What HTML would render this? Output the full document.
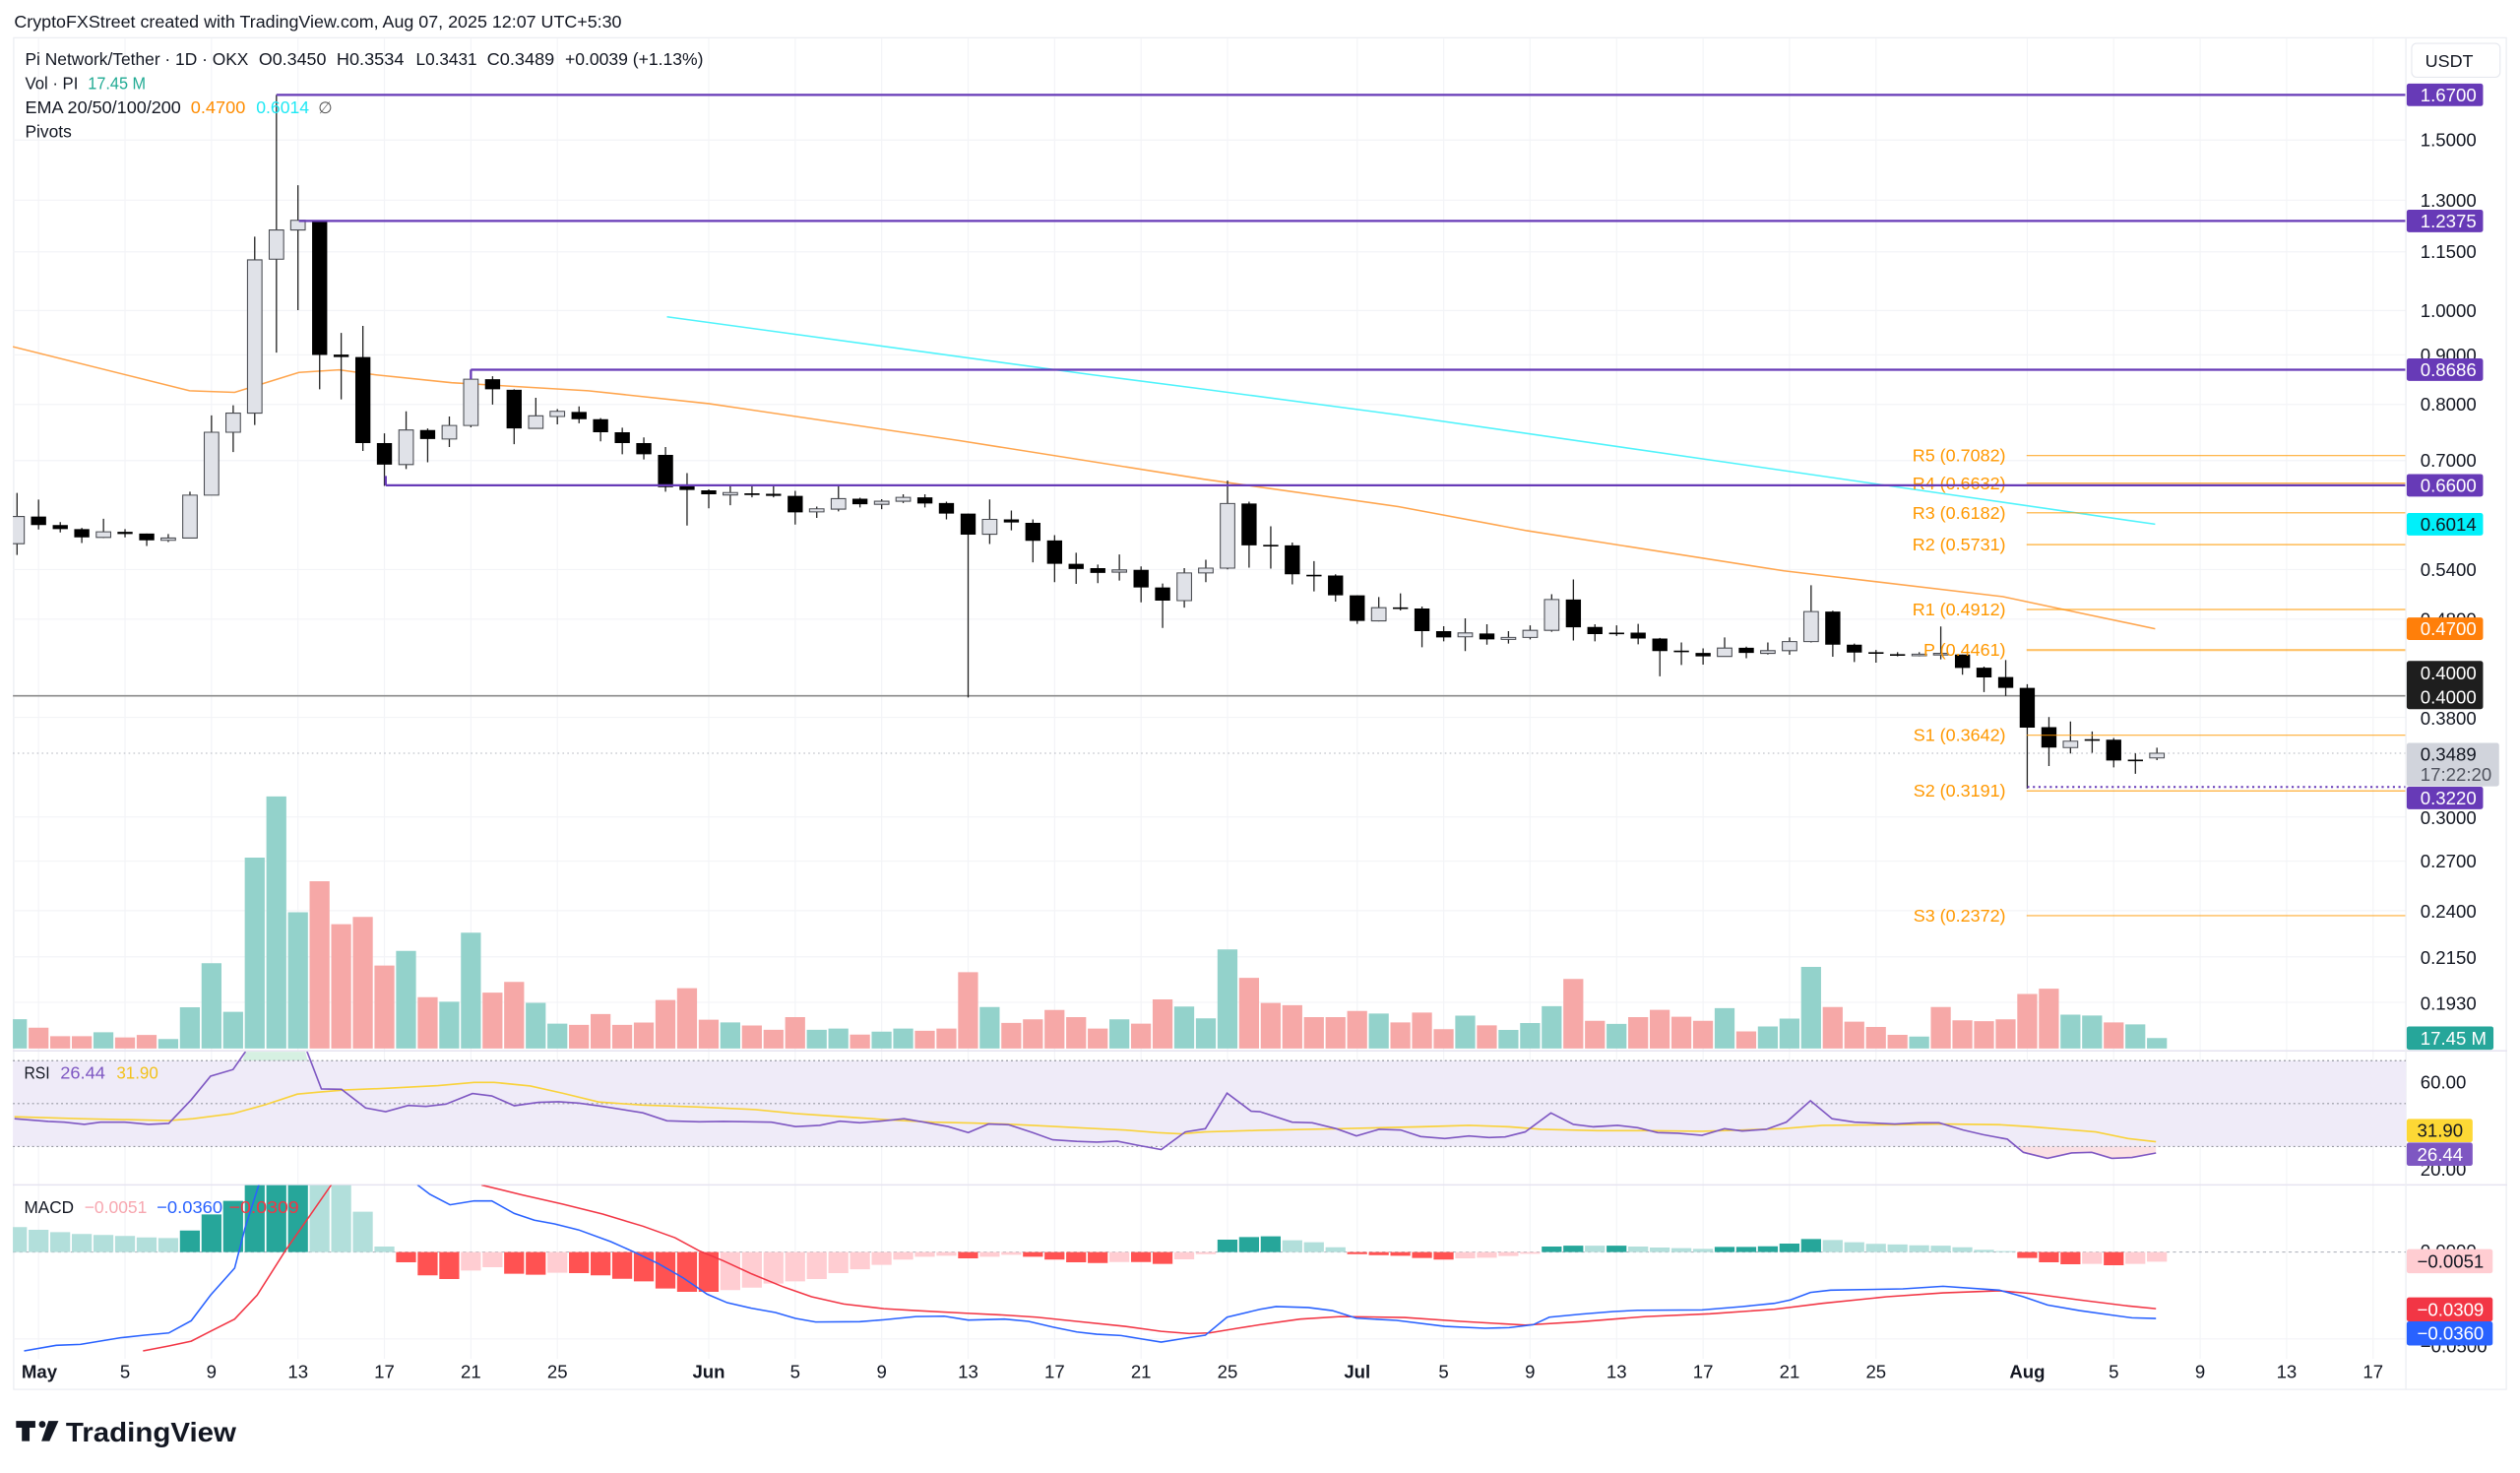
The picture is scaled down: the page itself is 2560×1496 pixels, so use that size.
<!DOCTYPE html>
<html><head><meta charset="utf-8"><style>
html,body{margin:0;padding:0;background:#fff;overflow:hidden}
svg{display:block}
text{font-family:"Liberation Sans",Arial,sans-serif}
</style></head><body>
<svg width="2560" height="1496" viewBox="0 0 1568 916" preserveAspectRatio="none" xmlns="http://www.w3.org/2000/svg" fill="#131722">
<defs>
<clipPath id="cm"><rect x="8" y="24" width="1489" height="630"/></clipPath>
<clipPath id="cr"><rect x="8" y="654" width="1489" height="82.5"/></clipPath>
<clipPath id="cd"><rect x="8" y="737" width="1489" height="108"/></clipPath>
</defs>
<rect x="0" y="0" width="1568" height="916" fill="#fff"/>
<text x="8.8" y="17.3" font-size="11" textLength="378" lengthAdjust="spacingAndGlyphs">CryptoFXStreet created with TradingView.com, Aug 07, 2025 12:07 UTC+5:30</text>
<rect x="8.5" y="23.5" width="1551" height="840.5" fill="none" stroke="#eceef2" stroke-width="0.8"/>

<!-- grid -->
<g stroke="#f3f4f7" stroke-width="0.7" fill="none">
<path d="M8 87.1H1497M8 124.5H1497M8 156.6H1497M8 193.1H1497M8 220.7H1497M8 251.5H1497M8 286.4H1497M8 354.2H1497M8 385H1497M8 446.1H1497M8 508H1497M8 535.5H1497M8 566.3H1497M8 595H1497M8 623.3H1497M8 673H1497M8 832.6H1497"/>
<path d="M24 24V845M77.8 24V845M131.6 24V845M185.4 24V845M239.2 24V845M293 24V845M346.8 24V845M441 24V845M494.8 24V845M548.6 24V845M602.4 24V845M656.2 24V845M710 24V845M763.8 24V845M844.5 24V845M898.3 24V845M952 24V845M1005.9 24V845M1059.7 24V845M1113.5 24V845M1167.3 24V845M1261.4 24V845M1315.2 24V845M1369 24V845M1422.8 24V845M1476.6 24V845"/>
</g>

<g clip-path="url(#cm)">
<!-- volume -->
<path fill="#93d2cb" d="M4.35 633.8h12.4V652h-12.4zM58.15 641.9h12.4V652h-12.4zM98.5 646.1h12.4V652h-12.4zM111.95 626.4h12.4V652h-12.4zM125.4 599h12.4V652h-12.4zM138.85 629.2h12.4V652h-12.4zM152.3 533.3h12.4V652h-12.4zM165.75 495.3h12.4V652h-12.4zM179.2 567.3h12.4V652h-12.4zM246.45 591.3h12.4V652h-12.4zM273.35 622.9h12.4V652h-12.4zM286.8 580h12.4V652h-12.4zM327.15 623.6h12.4V652h-12.4zM340.6 636.6h12.4V652h-12.4zM448.2 635.8h12.4V652h-12.4zM502 640.4h12.4V652h-12.4zM515.45 639.6h12.4V652h-12.4zM542.35 641.5h12.4V652h-12.4zM555.8 639.6h12.4V652h-12.4zM609.6 626.2h12.4V652h-12.4zM690.3 633.9h12.4V652h-12.4zM730.65 625.9h12.4V652h-12.4zM744.1 633.3h12.4V652h-12.4zM757.55 590.4h12.4V652h-12.4zM851.7 630.3h12.4V652h-12.4zM905.5 631.6h12.4V652h-12.4zM932.4 640.5h12.4V652h-12.4zM945.85 636.2h12.4V652h-12.4zM959.3 625.7h12.4V652h-12.4zM999.65 636.7h12.4V652h-12.4zM1066.9 626.9h12.4V652h-12.4zM1093.8 638.3h12.4V652h-12.4zM1107.25 633.4h12.4V652h-12.4zM1120.7 601.3h12.4V652h-12.4zM1187.95 644.6h12.4V652h-12.4zM1282.1 631h12.4V652h-12.4zM1295.55 631.5h12.4V652h-12.4zM1322.45 637h12.4V652h-12.4zM1335.9 645.5h12.4V652h-12.4z"/>
<path fill="#f6a8a7" d="M17.8 639.1h12.4V652h-12.4zM31.25 644.4h12.4V652h-12.4zM44.7 644.4h12.4V652h-12.4zM71.6 645.1h12.4V652h-12.4zM85.05 643.6h12.4V652h-12.4zM192.65 548h12.4V652h-12.4zM206.1 574.7h12.4V652h-12.4zM219.55 570.2h12.4V652h-12.4zM233 600.4h12.4V652h-12.4zM259.9 620.1h12.4V652h-12.4zM300.25 617.3h12.4V652h-12.4zM313.7 610.6h12.4V652h-12.4zM354.05 637.3h12.4V652h-12.4zM367.5 630.6h12.4V652h-12.4zM380.95 637.3h12.4V652h-12.4zM394.4 635.9h12.4V652h-12.4zM407.85 621.9h12.4V652h-12.4zM421.3 614.5h12.4V652h-12.4zM434.75 634.1h12.4V652h-12.4zM461.65 637.7h12.4V652h-12.4zM475.1 640.4h12.4V652h-12.4zM488.55 632.5h12.4V652h-12.4zM528.9 643.4h12.4V652h-12.4zM569.25 641h12.4V652h-12.4zM582.7 639.6h12.4V652h-12.4zM596.15 604.6h12.4V652h-12.4zM623.05 636.1h12.4V652h-12.4zM636.5 633.9h12.4V652h-12.4zM649.95 628.1h12.4V652h-12.4zM663.4 632.5h12.4V652h-12.4zM676.85 639.6h12.4V652h-12.4zM703.75 636.6h12.4V652h-12.4zM717.2 621.5h12.4V652h-12.4zM771 608.1h12.4V652h-12.4zM784.45 623.7h12.4V652h-12.4zM797.9 625.1h12.4V652h-12.4zM811.35 632.5h12.4V652h-12.4zM824.8 632.5h12.4V652h-12.4zM838.25 628.7h12.4V652h-12.4zM865.15 635.8h12.4V652h-12.4zM878.6 629.7h12.4V652h-12.4zM892.05 640h12.4V652h-12.4zM918.95 637.6h12.4V652h-12.4zM972.75 608.8h12.4V652h-12.4zM986.2 634.8h12.4V652h-12.4zM1013.1 632.5h12.4V652h-12.4zM1026.55 628h12.4V652h-12.4zM1040 632.3h12.4V652h-12.4zM1053.45 634.8h12.4V652h-12.4zM1080.35 641.4h12.4V652h-12.4zM1134.15 626.2h12.4V652h-12.4zM1147.6 635.3h12.4V652h-12.4zM1161.05 638.6h12.4V652h-12.4zM1174.5 643.5h12.4V652h-12.4zM1201.4 626.2h12.4V652h-12.4zM1214.85 634.5h12.4V652h-12.4zM1228.3 635h12.4V652h-12.4zM1241.75 633.9h12.4V652h-12.4zM1255.2 618.1h12.4V652h-12.4zM1268.65 614.8h12.4V652h-12.4zM1309 635.8h12.4V652h-12.4z"/>

<!-- price dotted line -->
<path d="M8 468.4H1497" stroke="#b2b5be" stroke-width="0.6" stroke-dasharray="1 2" fill="none"/>
<!-- 0.40 ray -->
<path d="M8 432.7H1497" stroke="#8a8a8a" stroke-width="1" fill="none"/>

<!-- EMAs -->
<polyline fill="none" stroke="#ffa54d" stroke-width="0.95" points="8,215.6 118,243 146,244 186,231.6 211,230 233,233 281,238 366,243 441,251 597,274 749,298 870,315 950,330 1110,355 1246,371 1298,382 1341,391"/>
<polyline fill="none" stroke="#4ff3fb" stroke-width="0.95" points="415,197 679,233 749,242 870,258 1341,326"/>

<!-- wicks -->
<path stroke="#222" stroke-width="0.8" fill="none" d="M10.6 306.5V345.1M24 310.7V329.3M37.5 324.7V331.1M50.9 328.3V337.7M64.4 322.6V334.6M77.8 329V334.2M91.3 331.8V339.5M104.7 332.1V337.1M118.2 305.8V334.6M131.6 258.3V307.9M145.1 252V281.1M158.5 147.2V264.3M172 59V219.3M185.4 115.2V192.9M198.9 137V242.1M212.3 207V248.4M225.8 202.7V280.4M239.2 269.5V302.2M252.7 255.8V291.7M266.1 266.4V287.5M279.6 259V278M293 229.8V265.7M306.5 234V251.6M319.9 242.1V276.2M333.4 247.4V266.4M346.8 254.4V263.9M360.3 252.7V263.2M373.7 260V274.5M387.2 266V282.5M400.6 272V285.7M414.1 278V305.8M427.5 294.2V326.8M441 304.3V316.1M454.4 302.4V314.2M467.9 302.4V309.3M481.3 302.4V309.3M494.8 305.2V326.2M508.2 315V322.1M521.7 301.9V318M535.1 309.5V315.6M548.6 310.4V316.6M562 307.4V312.8M575.5 307.4V315.6M588.9 312V323M602.4 319.4V433.7M615.8 310.6V338.3M629.3 317.5V329.8M642.7 323V349.7M656.2 332.8V362M669.6 343.7V363.1M683.1 351.1V362.6M696.5 344.8V361M710 352.2V374.6M723.4 362.9V390.5M736.9 353.3V377.9M750.3 348.1V362M763.8 298.9V354.1M777.2 312V353M790.7 327.3V353.6M804.1 337.4V363.4M817.6 348.9V367.8M831 357.1V374.1M844.5 370.2V388M857.9 371.3V386.4M871.4 369V379.6M884.8 377.2V402.5M898.3 389.4V398.8M911.7 384.5V404.9M925.2 388.2V400.9M938.6 392.5V400.2M952.1 388.9V397.6M965.5 369.5V392.9M979 360.3V398.3M992.4 388.2V398.8M1005.9 388.9V395.5M1019.3 388V400.7M1032.8 396.7V420.6M1046.2 399.5V413.5M1059.7 403.2V413.3M1073.1 396.4V408.4M1086.6 402.1V409.3M1100 399.5V407M1113.5 396.4V407.2M1126.9 363.9V399.5M1140.4 379.8V408.4M1153.8 400.2V411.7M1167.3 404.2V412.1M1180.7 405.6V408.2M1194.2 405.6V408.2M1207.6 389.6V410M1221.1 407V419.6M1234.5 414.5V430.4M1248 410.5V432.8M1261.4 425.5V490.4M1274.9 445.9V476.4M1288.3 448.7V468.6M1301.8 454.9V468.1M1315.2 458.9V477.2M1328.7 468.5V481.2M1342.1 465V472.7"/>
<!-- down bodies -->
<path fill="#000" d="M19.3 321.2h9.4V326.5h-9.4zM32.8 326.5h9.4V329h-9.4zM46.2 329h9.4V334.2h-9.4zM73.1 330.7h9.4V332.1h-9.4zM86.6 331.8h9.4V336h-9.4zM194.2 137h9.4V220.7h-9.4zM207.6 220.5h9.4V222h-9.4zM221.1 222h9.4V275.5h-9.4zM234.5 275.5h9.4V288.9h-9.4zM261.4 267.4h9.4V273h-9.4zM301.8 235.8h9.4V242.1h-9.4zM315.2 242.4h9.4V266.4h-9.4zM355.6 256.2h9.4V260.7h-9.4zM369 260.7h9.4V268.8h-9.4zM382.5 268.8h9.4V275.5h-9.4zM395.9 275.5h9.4V282.5h-9.4zM409.4 282.9h9.4V302.9h-9.4zM422.8 302.2h9.4V304.7h-9.4zM436.3 304.9h9.4V307.4h-9.4zM463.2 306.8h9.4V307.8h-9.4zM476.6 307.1h9.4V308.4h-9.4zM490.1 308.4h9.4V318.6h-9.4zM530.4 310.1h9.4V313.6h-9.4zM570.8 309.3h9.4V313.1h-9.4zM584.2 312.8h9.4V319.4h-9.4zM597.7 319.4h9.4V332.5h-9.4zM624.6 323h9.4V324.9h-9.4zM638 325.1h9.4V336.3h-9.4zM651.5 336.1h9.4V350.6h-9.4zM664.9 350.6h9.4V353.8h-9.4zM678.4 353.3h9.4V356.3h-9.4zM705.3 354.4h9.4V365.3h-9.4zM718.7 365.3h9.4V373.5h-9.4zM772.5 313.1h9.4V339.1h-9.4zM786 338.8h9.4V339.8h-9.4zM799.4 339.1h9.4V357.1h-9.4zM812.9 357.4h9.4V358.4h-9.4zM826.3 357.9h9.4V370.2h-9.4zM839.8 370.2h9.4V386.1h-9.4zM866.7 377.7h9.4V378.7h-9.4zM880.1 378.4h9.4V392.5h-9.4zM893.6 392.5h9.4V396.4h-9.4zM920.5 393.9h9.4V397.6h-9.4zM974.3 372.8h9.4V390.1h-9.4zM987.7 389.9h9.4V394.3h-9.4zM1001.2 393.4h9.4V394.4h-9.4zM1014.6 393.4h9.4V397.1h-9.4zM1028.1 397.1h9.4V404.9h-9.4zM1041.5 404.6h9.4V405.6h-9.4zM1055 406h9.4V408.2h-9.4zM1081.9 402.8h9.4V406h-9.4zM1135.7 380.3h9.4V400.9h-9.4zM1149.1 400.9h9.4V405.8h-9.4zM1162.6 405.6h9.4V406.6h-9.4zM1176 406.8h9.4V407.8h-9.4zM1216.4 407h9.4V415.4h-9.4zM1229.8 415.2h9.4V421.3h-9.4zM1243.3 421h9.4V427.8h-9.4zM1256.7 427.8h9.4V452.5h-9.4zM1270.2 452.2h9.4V464.9h-9.4zM1297.1 459.7h9.4V460.7h-9.4zM1310.5 460h9.4V472.9h-9.4zM1324 472.4h9.4V473.4h-9.4z"/>
<!-- up bodies -->
<path fill="#e0e2e8" stroke="#4a4c52" stroke-width="0.65" d="M6.1 321.2h9V338.1h-9zM59.9 330.7h9V334.2h-9zM100.2 334.6h9V336h-9zM113.7 307.9h9V334.6h-9zM127.1 268.8h9V307.9h-9zM140.6 256.9h9V268.8h-9zM154 161.6h9V256.9h-9zM167.5 143h9V161.2h-9zM180.9 137h9V143h-9zM248.2 267.4h9V288.9h-9zM275.1 264.6h9V273h-9zM288.5 235.8h9V264.6h-9zM328.9 258.6h9V266.4h-9zM342.3 255.8h9V259h-9zM449.9 306.3h9V307.8h-9zM503.7 316.4h9V318.3h-9zM517.2 310.1h9V316.6h-9zM544.1 311.7h9V313.6h-9zM557.5 309.3h9V311.7h-9zM611.3 323h9V332.2h-9zM692 354.4h9V355.8h-9zM732.4 356.3h9V373.5h-9zM745.8 353.3h9V356.3h-9zM759.3 313.1h9V353.3h-9zM853.4 377.9h9V386.1h-9zM907.2 393.6h9V396h-9zM934.1 396.4h9V397.6h-9zM947.6 392h9V396.4h-9zM961 372.8h9V392h-9zM1068.6 403h9V408.2h-9zM1095.5 404.6h9V406.3h-9zM1109 399h9V404.6h-9zM1122.4 380.3h9V399h-9zM1189.7 406.8h9V407.8h-9zM1203.1 406.3h9V407.3h-9zM1283.8 460.9h9V464.9h-9zM1337.6 468.4h9V471.3h-9z"/>

<!-- pivots -->
<g stroke="#ff9800" stroke-opacity="0.8" stroke-width="0.75" fill="none">
<path d="M1261 283.3H1497M1261 300.5H1497M1261 318.9H1497M1261 338.7H1497M1261 379H1497M1261 457.2H1497M1261 491.8H1497M1261 569.4H1497"/>
<path d="M1261 404.2H1497" stroke-width="1.3" stroke-opacity="0.6"/>
</g>
<g font-size="11" fill="#ff9800" text-anchor="end" dominant-baseline="central">
<text x="1248" y="283.3">R5 (0.7082)</text>
<text x="1248" y="300.5">R4 (0.6632)</text>
<text x="1248" y="318.9">R3 (0.6182)</text>
<text x="1248" y="338.7">R2 (0.5731)</text>
<text x="1248" y="379">R1 (0.4912)</text>
<text x="1248" y="404.2">P (0.4461)</text>
<text x="1248" y="457.2">S1 (0.3642)</text>
<text x="1248" y="491.8">S2 (0.3191)</text>
<text x="1248" y="569.4">S3 (0.2372)</text>
</g>
<!-- purple levels -->
<path d="M172 59H1497M186 137.4H1497M293 229.9H1497M240 301.8H1497M293 229.9V235.8M240 301.8V296" stroke="#673ab7" stroke-width="1.4" fill="none"/>
<path d="M1261.4 489.4H1497" stroke="#673ab7" stroke-width="1.2" stroke-dasharray="1.3 2.2" fill="none"/>
</g>

<!-- legend -->
<g font-size="11">
<text x="15.6" y="40.5" textLength="139" lengthAdjust="spacingAndGlyphs">Pi Network/Tether · 1D · OKX</text>
<text x="161" y="40.5" textLength="42" lengthAdjust="spacingAndGlyphs">O0.3450</text>
<text x="209.4" y="40.5" textLength="42" lengthAdjust="spacingAndGlyphs">H0.3534</text>
<text x="258.8" y="40.5" textLength="38" lengthAdjust="spacingAndGlyphs">L0.3431</text>
<text x="303" y="40.5" textLength="42" lengthAdjust="spacingAndGlyphs">C0.3489</text>
<text x="351.6" y="40.5" textLength="86" lengthAdjust="spacingAndGlyphs">+0.0039 (+1.13%)</text>
<text x="15.6" y="55.5" textLength="33" lengthAdjust="spacingAndGlyphs">Vol · PI</text>
<text x="54.7" y="55.5" textLength="36" lengthAdjust="spacingAndGlyphs" fill="#22ab94">17.45 M</text>
<text x="15.6" y="70.4" textLength="97" lengthAdjust="spacingAndGlyphs">EMA 20/50/100/200</text>
<text x="118.7" y="70.4" textLength="34" lengthAdjust="spacingAndGlyphs" fill="#ff8c00">0.4700</text>
<text x="159.4" y="70.4" textLength="33" lengthAdjust="spacingAndGlyphs" fill="#1ee8f4">0.6014</text>
<text x="198" y="70.4" font-size="10" fill="#555">∅</text>
<text x="15.6" y="85.3" textLength="29" lengthAdjust="spacingAndGlyphs">Pivots</text>
</g>

<!-- pane separators -->
<path d="M8 653.5H1560M8 736.8H1560" stroke="#e6e3f0" stroke-width="0.9" fill="none"/>
<path d="M1497 24V864" stroke="#eceef2" stroke-width="0.8" fill="none"/>

<!-- RSI pane -->
<g clip-path="url(#cr)">
<rect x="8" y="659.6" width="1489" height="53.4" fill="#efebf8"/>
<polygon points="151,659.6 152.5,654.3 156,653 188,653 190,654 191.5,659.6" fill="#d6f0e2"/>
<polygon points="1256,713 1259,716.6 1274,720.3 1289,717 1301.5,716.6 1314,720.3 1326.5,719.8 1341.5,717 1341.5,713" fill="#fbe0e4"/>
<path d="M8 659.6H1497M8 686.3H1497M8 713H1497" stroke="#9598a1" stroke-width="0.7" stroke-dasharray="1.2 1.8" fill="none"/>
<polyline fill="none" stroke="#f9d23a" stroke-width="1" points="9,694.5 30,695.1 50,695.7 75,696.2 105,696.8 120,695.7 145,692.5 165,687 185,680.4 200,679 215,677.8 240,676.8 272.5,675.1 295,673.1 307.5,673.1 330,675.3 350,679.8 372.5,685.3 400,687.2 435,688.4 470,690 495,692.5 525,694.5 550,696.2 580,697.8 605,698.4 625,699 650,700.2 675,701.5 700,702.7 720,704.3 735,705.1 750,703.9 784,702.9 834,701.9 884,700.7 914,699.8 939,700.7 959,702.3 994,703.1 1024,703.1 1059,703.5 1084,702.7 1109,701.9 1134,699.8 1184,699.4 1209,699 1244,699.4 1264,700.7 1284,702.3 1304,703.9 1324,708 1341.5,710"/>
<polyline fill="none" stroke="#7e57c2" stroke-width="1" points="9,695.7 30,697.4 40,697.8 52.5,699.2 62.5,697.8 77.5,697.8 92.5,699.2 105,698.6 119,683.9 131,669.2 145,665.1 152.5,654.3 156,645 188,645 190,651.2 200,677.2 212.5,677.4 227.5,689 240,691.3 254,687.4 265,688 277.5,686.6 294,680 306,681.5 320,687.6 335,685.5 347.5,685.1 360,686 375,688 400,692 415,697 435,697.6 450,697.4 480,697.8 495,700.6 510,699.8 522.5,697.2 535,698.2 547.5,697.2 562.5,695.7 575,697.8 590,700.6 602.5,704.3 615,699 627.5,699.4 642.5,704.3 655,708.8 670,709.8 682.5,710.2 695,709.6 707.5,712.1 722.5,714.9 737.5,703.9 750,701.9 763.5,679.8 778.5,691 784,691.3 804,697.8 816.5,698.2 831.5,701.9 844,706.4 858,702.3 871.5,702.7 884,706.8 899,708 914,706.4 926.5,707.4 936.5,707 949,703.9 965,692.1 979,699.2 991.5,700.7 1006.5,699.8 1019,701.3 1031.5,704.3 1044,704.7 1059,706 1073,701.9 1084,703.3 1099,702.3 1111.5,697.8 1126.5,684.5 1140,695.7 1154,697.8 1179,699 1194,698.2 1206.5,698.2 1221.5,702.7 1234,705.6 1249,708.4 1259,716.6 1274,720.3 1289,717 1301.5,716.6 1314,720.3 1326.5,719.8 1341.5,717"/>
</g>
<g font-size="11">
<text x="15" y="670.8" textLength="16" lengthAdjust="spacingAndGlyphs">RSI</text>
<text x="37.5" y="670.8" textLength="28" lengthAdjust="spacingAndGlyphs" fill="#7e57c2">26.44</text>
<text x="72.5" y="670.8" textLength="26" lengthAdjust="spacingAndGlyphs" fill="#f2c21b">31.90</text>
</g>

<!-- MACD pane -->
<g clip-path="url(#cd)">
<path d="M8 778.6H1497" stroke="#b2b5be" stroke-width="0.7" stroke-dasharray="2 2" fill="none"/>
<path fill="#26a69a" d="M111.95 765.2h12.4V778.6h-12.4zM125.4 755.2h12.4V778.6h-12.4zM138.85 746.8h12.4V778.6h-12.4zM152.3 737h12.4V778.6h-12.4zM165.75 737h12.4V778.6h-12.4zM179.2 737h12.4V778.6h-12.4zM757.55 770.9h12.4V778.6h-12.4zM771 769.3h12.4V778.6h-12.4zM784.45 768.8h12.4V778.6h-12.4zM959.3 775.2h12.4V778.6h-12.4zM972.75 774.6h12.4V778.6h-12.4zM999.65 774.6h12.4V778.6h-12.4zM1066.9 775.4h12.4V778.6h-12.4zM1080.35 775.4h12.4V778.6h-12.4zM1093.8 775h12.4V778.6h-12.4zM1107.25 773.3h12.4V778.6h-12.4zM1120.7 770.5h12.4V778.6h-12.4z"/>
<path fill="#b2dfdb" d="M4.35 763.1h12.4V778.6h-12.4zM17.8 764.8h12.4V778.6h-12.4zM31.25 766.2h12.4V778.6h-12.4zM44.7 767.4h12.4V778.6h-12.4zM58.15 768h12.4V778.6h-12.4zM71.6 768.6h12.4V778.6h-12.4zM85.05 769.5h12.4V778.6h-12.4zM98.5 769.9h12.4V778.6h-12.4zM192.65 737h12.4V778.6h-12.4zM206.1 737h12.4V778.6h-12.4zM219.55 753.5h12.4V778.6h-12.4zM233 775.2h12.4V778.6h-12.4zM797.9 771.3h12.4V778.6h-12.4zM811.35 772.5h12.4V778.6h-12.4zM824.8 775.6h12.4V778.6h-12.4zM986.2 774.6h12.4V778.6h-12.4zM1013.1 775.2h12.4V778.6h-12.4zM1026.55 775.8h12.4V778.6h-12.4zM1040 776.2h12.4V778.6h-12.4zM1053.45 776.6h12.4V778.6h-12.4zM1134.15 771.1h12.4V778.6h-12.4zM1147.6 772.5h12.4V778.6h-12.4zM1161.05 773.5h12.4V778.6h-12.4zM1174.5 773.9h12.4V778.6h-12.4zM1187.95 774.4h12.4V778.6h-12.4zM1201.4 774.6h12.4V778.6h-12.4zM1214.85 775.6h12.4V778.6h-12.4zM1228.3 777.2h12.4V778.6h-12.4zM1241.75 778h12.4V778.6h-12.4z"/>
<path fill="#ff5252" d="M246.45 778.6h12.4V785h-12.4zM259.9 778.6h12.4V793.1h-12.4zM273.35 778.6h12.4V795.4h-12.4zM313.7 778.6h12.4V792.1h-12.4zM327.15 778.6h12.4V792.7h-12.4zM354.05 778.6h12.4V791.7h-12.4zM367.5 778.6h12.4V793.1h-12.4zM380.95 778.6h12.4V795.2h-12.4zM394.4 778.6h12.4V796.8h-12.4zM407.85 778.6h12.4V801.3h-12.4zM421.3 778.6h12.4V803.3h-12.4zM434.75 778.6h12.4V803.3h-12.4zM596.15 778.6h12.4V782.5h-12.4zM636.5 778.6h12.4V781.5h-12.4zM649.95 778.6h12.4V783.3h-12.4zM663.4 778.6h12.4V785h-12.4zM676.85 778.6h12.4V785.4h-12.4zM703.75 778.6h12.4V784.8h-12.4zM717.2 778.6h12.4V786h-12.4zM838.25 778.6h12.4V779.9h-12.4zM851.7 778.6h12.4V780.5h-12.4zM865.15 778.6h12.4V780.9h-12.4zM878.6 778.6h12.4V782.3h-12.4zM892.05 778.6h12.4V783.3h-12.4zM1255.2 778.6h12.4V782.3h-12.4zM1268.65 778.6h12.4V785h-12.4zM1282.1 778.6h12.4V786.2h-12.4zM1309 778.6h12.4V786.8h-12.4z"/>
<path fill="#ffcdd2" d="M286.8 778.6h12.4V790.1h-12.4zM300.25 778.6h12.4V788h-12.4zM340.6 778.6h12.4V791.5h-12.4zM448.2 778.6h12.4V802.3h-12.4zM461.65 778.6h12.4V800.7h-12.4zM475.1 778.6h12.4V798.2h-12.4zM488.55 778.6h12.4V796.8h-12.4zM502 778.6h12.4V795.4h-12.4zM515.45 778.6h12.4V791.7h-12.4zM528.9 778.6h12.4V789.3h-12.4zM542.35 778.6h12.4V786.6h-12.4zM555.8 778.6h12.4V783.3h-12.4zM569.25 778.6h12.4V781.5h-12.4zM582.7 778.6h12.4V780.9h-12.4zM609.6 778.6h12.4V781.5h-12.4zM623.05 778.6h12.4V780.3h-12.4zM690.3 778.6h12.4V784.8h-12.4zM730.65 778.6h12.4V783.1h-12.4zM744.1 778.6h12.4V779.9h-12.4zM905.5 778.6h12.4V782.5h-12.4zM918.95 778.6h12.4V782.1h-12.4zM932.4 778.6h12.4V781.1h-12.4zM945.85 778.6h12.4V779.7h-12.4zM1295.55 778.6h12.4V786h-12.4zM1322.45 778.6h12.4V786h-12.4zM1335.9 778.6h12.4V784.6h-12.4z"/>
<polyline fill="none" stroke="#f23645" stroke-width="0.95" points="89,840.1 105,837 119,834 131,827.9 146,820.3 160,805.4 177.5,777.8 192.5,756.4 206,737 212,725 295,725 300,737 325,743.1 350,748.8 375,755 400,762.5 420,769.7 435,777.8 450,784 467.5,792.1 487.5,800.3 505,806.4 525,810.9 550,813.8 570,815 600,816.6 625,817.8 645,819.1 670,821.7 700,824.8 722.5,827.9 740,829.3 752.5,828.9 770,826 784,823.8 809,820.3 834,818.7 874,819.3 909,821.7 949,824 984,821.9 1024,818.7 1064,817 1104,814.2 1134,810.5 1174,806.4 1209,804 1244,802.7 1264,804.4 1294,808.4 1324,812.1 1341.5,813.8"/>
<polyline fill="none" stroke="#2962ff" stroke-width="0.95" points="15,840.1 35,836.6 50,836 75,831.9 90,830.3 105,828.9 119,821.3 131,805.4 146,788.6 152.5,763.5 161,737 165,720 255,720 260,737 267.5,742.7 280,749.2 295,746.8 306,746.8 320,754.6 332.5,758.8 345,761.1 360,764.8 380,772.1 395,778.8 410,786 425,794.6 440,804.8 452.5,810.1 467.5,813.5 482.5,816.2 495,819.9 507.5,822.1 535,821.9 550,820.7 570,818.7 587.5,818.5 602.5,820.9 625,820.3 640,821.7 655,825.2 670,828.3 682.5,829.7 697.5,830.5 710,832.6 722.5,834.6 735,832.6 750,830.3 763.5,819.1 784,814.2 794,812.5 814,813.1 829,815 844,819.7 869,821.1 899,824.8 924,826 939,825.6 954,823.8 964,819.1 984,817.2 1004,815.6 1019,814.8 1059,814.6 1084,812.5 1104,810.5 1114,808.4 1126.5,803.7 1139,802.3 1184,801.5 1209,799.9 1244,802.3 1259,806.4 1274,811.5 1294,815 1314,817.8 1326.5,819.5 1341.5,819.9"/>
</g>
<g font-size="11">
<text x="15" y="754.5" textLength="31" lengthAdjust="spacingAndGlyphs">MACD</text>
<text x="52.5" y="754.5" textLength="39" lengthAdjust="spacingAndGlyphs" fill="#f7a7b0">−0.0051</text>
<text x="97.5" y="754.5" textLength="41" lengthAdjust="spacingAndGlyphs" fill="#2962ff">−0.0360</text>
<text x="142.5" y="754.5" textLength="43.5" lengthAdjust="spacingAndGlyphs" fill="#f23645">−0.0309</text>
</g>

<!-- price axis -->
<g font-size="11.4" dominant-baseline="central">
<text x="1506" y="87.1">1.5000</text>
<text x="1506" y="124.5">1.3000</text>
<text x="1506" y="156.6">1.1500</text>
<text x="1506" y="193.1">1.0000</text>
<text x="1506" y="220.7">0.9000</text>
<text x="1506" y="251.5">0.8000</text>
<text x="1506" y="286.4">0.7000</text>
<text x="1506" y="354.2">0.5400</text>
<text x="1506" y="385">0.4800</text>
<text x="1506" y="446.6">0.3800</text>
<text x="1506" y="508.5">0.3000</text>
<text x="1506" y="535.5">0.2700</text>
<text x="1506" y="566.8">0.2400</text>
<text x="1506" y="595.5">0.2150</text>
<text x="1506" y="623.8">0.1930</text>
<text x="1506" y="673">60.00</text>
<text x="1506" y="727">20.00</text>
<text x="1506" y="778">0.0000</text>
<text x="1506" y="837">−0.0500</text>
</g>
<rect x="1500.6" y="27" width="55" height="21" rx="3" fill="#fff" stroke="#e6e8ee" stroke-width="0.7"/>
<text x="1509" y="41.5" font-size="11">USDT</text>
<g font-size="11.4" dominant-baseline="central">
<rect x="1497.5" y="52" width="47.5" height="14" rx="1.5" fill="#673ab7"/><text x="1506" y="59" fill="#fff">1.6700</text>
<rect x="1497.5" y="130.4" width="47.5" height="14" rx="1.5" fill="#673ab7"/><text x="1506" y="137.4" fill="#fff">1.2375</text>
<rect x="1497.5" y="222.9" width="47.5" height="14" rx="1.5" fill="#673ab7"/><text x="1506" y="229.9" fill="#fff">0.8686</text>
<rect x="1497.5" y="294.8" width="47.5" height="14" rx="1.5" fill="#673ab7"/><text x="1506" y="301.8" fill="#fff">0.6600</text>
<rect x="1497.5" y="319" width="47.5" height="14" rx="1.5" fill="#00f0fa"/><text x="1506" y="326" fill="#131722">0.6014</text>
<rect x="1497.5" y="384" width="47.5" height="14" rx="1.5" fill="#ff7f0a"/><text x="1506" y="391" fill="#fff">0.4700</text>
<rect x="1497.5" y="411" width="47.5" height="30" rx="1.5" fill="#1e1e1e"/><text x="1506" y="418.5" fill="#fff">0.4000</text><text x="1506" y="433.5" fill="#fff">0.4000</text>
<rect x="1497.5" y="462" width="57.5" height="27" rx="1.5" fill="#d1d4dc"/><text x="1506" y="469" fill="#131722">0.3489</text><text x="1506" y="481.5" fill="#50535e">17:22:20</text>
<rect x="1497.5" y="489.2" width="47.5" height="14" rx="1.5" fill="#673ab7"/><text x="1506" y="496.2" fill="#fff">0.3220</text>
<rect x="1497.5" y="638.3" width="54" height="14.5" rx="1.5" fill="#26a69a"/><text x="1506" y="645.6" fill="#fff">17.45 M</text>
<rect x="1497.5" y="695.8" width="41" height="14.5" rx="1.5" fill="#fdd835"/><text x="1504" y="703" fill="#131722">31.90</text>
<rect x="1497.5" y="710.5" width="41" height="14.5" rx="1.5" fill="#7e57c2"/><text x="1504" y="717.8" fill="#fff">26.44</text>
<rect x="1497.5" y="776.8" width="53.5" height="15" rx="1.5" fill="#ffcdd2"/><text x="1504" y="784.3" fill="#131722">−0.0051</text>
<rect x="1497.5" y="806.8" width="53.5" height="15" rx="1.5" fill="#f23645"/><text x="1504" y="814.3" fill="#fff">−0.0309</text>
<rect x="1497.5" y="821.7" width="53.5" height="15" rx="1.5" fill="#2962ff"/><text x="1504" y="829.2" fill="#fff">−0.0360</text>
</g>

<!-- time axis -->
<g font-size="11.4" text-anchor="middle" dominant-baseline="central">
<text x="24.5" y="853" font-weight="bold">May</text>
<text x="77.8" y="853">5</text>
<text x="131.6" y="853">9</text>
<text x="185.4" y="853">13</text>
<text x="239.2" y="853">17</text>
<text x="293" y="853">21</text>
<text x="346.8" y="853">25</text>
<text x="441" y="853" font-weight="bold">Jun</text>
<text x="494.8" y="853">5</text>
<text x="548.6" y="853">9</text>
<text x="602.4" y="853">13</text>
<text x="656.2" y="853">17</text>
<text x="710" y="853">21</text>
<text x="763.8" y="853">25</text>
<text x="844.5" y="853" font-weight="bold">Jul</text>
<text x="898.3" y="853">5</text>
<text x="952" y="853">9</text>
<text x="1005.9" y="853">13</text>
<text x="1059.7" y="853">17</text>
<text x="1113.5" y="853">21</text>
<text x="1167.3" y="853">25</text>
<text x="1261.4" y="853" font-weight="bold">Aug</text>
<text x="1315.2" y="853">5</text>
<text x="1369" y="853">9</text>
<text x="1422.8" y="853">13</text>
<text x="1476.6" y="853">17</text>
</g>

<!-- logo -->
<g fill="#131722">
<path d="M10 883.6h12v4.2h-3.6v8.4h-4.8v-8.4H10z"/>
<circle cx="26.3" cy="885.7" r="2.1"/>
<path d="M30.2 883.6h6.2l-5.6 12.6h-5z"/>
</g>
<text x="41" y="896.3" font-size="17" font-weight="bold" textLength="106" lengthAdjust="spacingAndGlyphs">TradingView</text>
</svg>
</body></html>
